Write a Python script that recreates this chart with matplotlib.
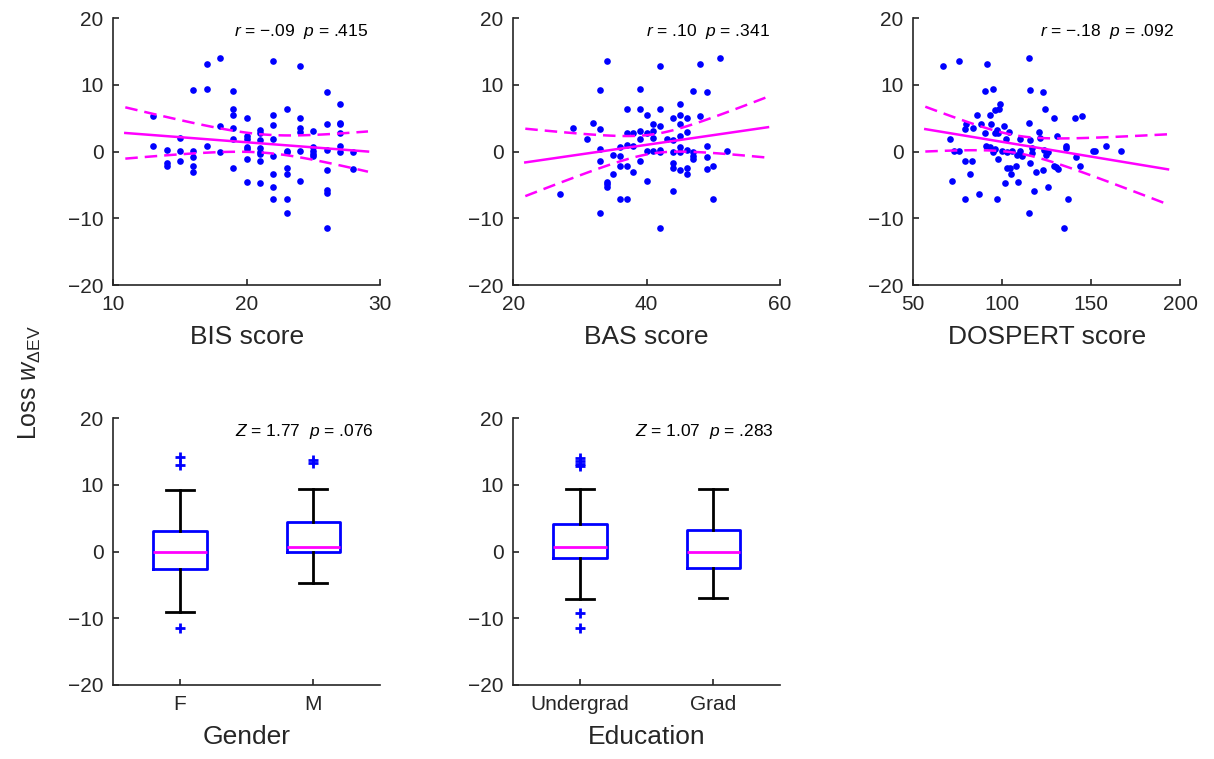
import numpy as np
import matplotlib
matplotlib.use("Agg")
import matplotlib.pyplot as plt

plt.rcParams['font.family'] = ['Liberation Sans', 'DejaVu Sans']
plt.rcParams['mathtext.fontset'] = 'custom'
plt.rcParams['mathtext.rm'] = 'Liberation Sans'
plt.rcParams['mathtext.it'] = 'Liberation Sans:italic'

# --- scatter data ---
bis_x = [13, 13, 14, 14, 14, 15, 15, 15, 16, 16, 16, 16, 16, 17, 17, 17, 18, 18, 18,
         19, 19, 19, 19, 19, 19, 20, 20, 20, 20, 20, 20, 20, 21, 21, 21, 21, 21, 21, 21, 21,
         22, 22, 22, 22, 22, 22, 22, 22, 23, 23, 23, 23, 23, 23, 23, 24, 24, 24, 24, 24, 24,
         25, 25, 25, 25, 25, 26, 26, 26, 26, 26, 26, 26, 27, 27, 27, 27, 27, 27, 28, 28]
bis_y = [5.35, 0.85, 0.25, -1.75, -2.15, 2.0, 0.05, -1.35, 9.25, 0.05, -0.75, -2.15, -3.1,
         13.15, 9.4, 0.85, 14.1, 3.85, 0.0, 9.15, 6.35, 5.5, 3.5, 1.9, -2.5,
         5.0, 2.35, 1.85, 0.75, 0.35, -1.1, -4.5, 3.25, 2.85, 1.75, 0.5, 0.0, -0.35, -1.4, -4.75,
         13.65, 5.45, 4.05, 1.85, -0.7, -3.3, -5.3, -7.1, 6.35, 0.15, -0.1, -2.5, -3.3, -7.1, -9.2,
         12.85, 5.0, 3.5, 2.9, 0.05, -4.4, 3.05, 0.75, 0.05, -0.35, -0.65,
         9.0, 4.15, 0.25, -2.8, -5.75, -6.25, -11.45, 7.1, 4.3, 4.1, 2.8, 0.85, 0.0, 0.0, -2.55]

bas_x = [27, 29, 31, 32, 33, 33, 33, 33, 33, 34, 34, 34, 34, 35, 35, 36, 36, 36, 36,
         37, 37, 37, 37, 37, 38, 38, 38, 39, 39, 39, 39, 39, 40, 40, 40, 40,
         41, 41, 41, 41, 42, 42, 42, 42, 42, 42, 43, 44, 44, 44, 44, 44, 44,
         45, 45, 45, 45, 45, 45, 45, 46, 46, 46, 46, 46, 47, 47, 47, 47, 48, 48,
         49, 49, 49, 49, 50, 50, 51, 52]
bas_y = [-6.3, 3.5, 1.9, 4.3, 9.25, 3.4, 0.4, -1.35, -9.2, 13.65, -4.5, -4.9, -5.3, -0.5, -3.3,
         0.7, -0.65, -2.2, -7.1, 6.35, 2.75, 0.95, -2.2, -7.1, 2.75, 0.85, -3.1,
         9.4, 6.35, 3.15, 1.85, -1.35, 5.45, 2.85, 0.1, -4.45, 4.15, 3.05, 2.0, 0.15,
         12.85, 6.35, 3.8, 0.3, 0.0, -11.45, 1.85, 5.0, 1.75, 0.0, -1.75, -2.5, -5.85,
         7.1, 5.5, 4.1, 2.35, 0.65, 0.0, -2.8, 5.0, 2.95, 0.25, -2.5, -3.3,
         9.1, 0.0, -0.6, -1.1, 13.15, 5.35, 8.95, 0.85, -0.75, -2.55, -2.2, -7.15, 14.1, 0.05]

dospert_x = [66.5, 70.7, 71.8, 72.9, 75.9, 75.9, 78.8, 78.8, 78.8, 79.7, 82.0, 82.9, 83.8,
             85.7, 86.8, 87.8, 90.6, 90.6, 91.0, 91.7, 92.9, 92.9, 93.8, 94.7, 95.1, 95.9,
             95.9, 96.2, 96.8, 96.8, 97.7, 97.7, 98.1, 98.9, 99.8, 100.8, 101.7, 102.1,
             102.6, 102.8, 103.8, 104.5, 104.9, 105.5, 107.9, 108.6, 108.8, 109.8, 110.0,
             111.1, 114.8, 114.8, 114.8, 115.8, 115.8, 115.8, 116.8, 116.8, 117.7, 118.8,
             120.7, 121.1, 122.8, 122.8, 123.3, 124.1, 124.8, 125.6, 125.8, 128.9, 128.9,
             130.3, 130.8, 131.2, 135.0, 135.9, 135.9, 137.0, 140.8, 141.7, 144.0, 145.1,
             150.8, 152.1, 158.1, 166.9]
dospert_y = [12.85, 1.9, -4.4, 0.05, 13.65, 0.05, 3.4, -1.35, -7.1, 4.15, -3.3, -1.35, 3.5,
             5.5, -6.3, 4.1, 9.1, 2.75, 0.9, 13.15, 5.45, 0.65, 4.15, 9.4, 0.0, 6.25,
             2.75, 0.4, 3.2, -7.1, 2.85, -1.1, 6.35, 7.1, 0.05, 3.8, -4.75, 1.85,
             0.0, -2.5, 3.0, -2.5, -3.3, 0.15, -2.15, -0.55, -4.5, 1.85, 0.1,
             -0.65, 14.1, 4.3, -9.2, 9.25, 1.7, -1.75, 0.5, -0.25, -5.85, -3.1,
             2.95, 2.0, 8.95, -2.8, 0.3, 6.35, -0.55, 0.0, -5.3, 5.0, -2.2,
             -2.35, 2.35, -2.55, -11.45, 0.9, 0.5, -7.15, 5.0, -0.75, -2.2, 5.35,
             0.05, 0.05, 0.85, 0.05]

scatter_xlabels = ["BIS score", "BAS score", "DOSPERT score"]
scatter_xlims = [(10, 30), (20, 60), (50, 200)]
scatter_xticks = [[10, 20, 30], [20, 40, 60], [50, 100, 150, 200]]
scatter_stats = ["$r$ = \u2212.09  $p$ = .415", "$r$ = .10  $p$ = .341", "$r$ = \u2212.18  $p$ = .092"]

# --- box plot summaries ---
gender_labels = ["F", "M"]
gender_med = [0.0, 0.7]
gender_q1 = [-2.65, -0.1]
gender_q3 = [3.15, 4.5]
gender_lo = [-9.1, -4.7]
gender_hi = [9.2, 9.45]
gender_fliers = [[14.15, 13.0, -11.45], [13.75, 13.25]]
gender_stats = "$Z$ = 1.77  $p$ = .076"

edu_labels = ["Undergrad", "Grad"]
edu_med = [0.7, 0.0]
edu_q1 = [-0.9, -2.5]
edu_q3 = [4.1, 3.25]
edu_lo = [-7.1, -7.0]
edu_hi = [9.35, 9.45]
edu_fliers = [[14.1, 13.65, 13.15, 12.9, -9.15, -11.45], []]
edu_stats = "$Z$ = 1.07  $p$ = .283"

BLUE = "#0000ff"
MAG = "#ff00ff"

fig = plt.figure(figsize=(12.14, 7.59), dpi=100)

W, H = 1214.0, 759.0
lefts = [113.3 / W, 513.3 / W, 913.3 / W]
aw = 266.7 / W
ah = 266.7 / H
top_b = 1 - 285 / H
bot_b = 1 - 685 / H
stat_xpos = [0.955, 0.9625, 0.976]


def style_axes(ax):
    for s in ["top", "right"]:
        ax.spines[s].set_visible(False)
    for s in ["left", "bottom"]:
        ax.spines[s].set_linewidth(1.2)
        ax.spines[s].set_color("#262626")
    ax.tick_params(direction="in", length=4, width=1.2, labelsize=15, pad=7,
                   color="#262626", labelcolor="#262626")
    ax.set_ylim(-20, 20)
    ax.set_yticks([-20, -10, 0, 10, 20])


scatter_data = [(bis_x, bis_y), (bas_x, bas_y), (dospert_x, dospert_y)]
for i, (xs, ys) in enumerate(scatter_data):
    ax = fig.add_axes([lefts[i], top_b, aw, ah])
    style_axes(ax)
    xs = np.array(xs, dtype=float)
    ys = np.array(ys, dtype=float)
    ax.plot(xs, ys, "o", color=BLUE, ms=4.8, mew=0)

    # least squares fit with simultaneous 95% confidence band
    lo, hi = scatter_xlims[i]
    span = hi - lo
    xf = np.linspace(lo + 0.045 * span, hi - 0.045 * span, 100)
    b, a = np.polyfit(xs, ys, 1)
    n = len(xs)
    resid = ys - (a + b * xs)
    s = np.sqrt(np.sum(resid ** 2) / (n - 2))
    sxx = np.sum((xs - xs.mean()) ** 2)
    se = s * np.sqrt(1.0 / n + (xf - xs.mean()) ** 2 / sxx)
    yf = a + b * xf
    crit = np.sqrt(2 * 3.11)
    ax.plot(xf, yf, color=MAG, lw=1.8)
    ax.plot(xf, yf + crit * se, color=MAG, lw=1.8, ls=(0, (5, 2.8)))
    ax.plot(xf, yf - crit * se, color=MAG, lw=1.8, ls=(0, (5, 2.8)))

    ax.set_xlim(lo, hi)
    ax.set_xticks(scatter_xticks[i])
    ax.set_xlabel(scatter_xlabels[i], fontsize=19, color="#262626", labelpad=8)
    ax.text(stat_xpos[i], 0.95, scatter_stats[i], transform=ax.transAxes,
            ha="right", va="center", fontsize=12.5, color="black")

box_sets = [
    (gender_labels, gender_med, gender_q1, gender_q3, gender_lo, gender_hi, gender_fliers, gender_stats, "Gender"),
    (edu_labels, edu_med, edu_q1, edu_q3, edu_lo, edu_hi, edu_fliers, edu_stats, "Education"),
]
for i, (labels, med, q1, q3, wlo, whi, fl, stat, xlabel) in enumerate(box_sets):
    ax = fig.add_axes([lefts[i], bot_b, aw, ah])
    style_axes(ax)
    stats = []
    for k in range(len(labels)):
        stats.append({"med": med[k], "q1": q1[k], "q3": q3[k], "whislo": wlo[k],
                      "whishi": whi[k], "fliers": fl[k], "label": labels[k]})
    ax.bxp(stats, positions=[1, 2], widths=0.4, showfliers=True,
           boxprops=dict(color=BLUE, lw=2),
           medianprops=dict(color=MAG, lw=2),
           whiskerprops=dict(color="black", lw=2, ls="-"),
           capprops=dict(color="black", lw=2),
           capwidths=0.21,
           flierprops=dict(marker="+", markeredgecolor=BLUE, markersize=7.5, mew=2))
    ax.set_xlim(0.5, 2.5)
    ax.set_xticks([1, 2])
    ax.set_xticklabels(labels)
    ax.set_xlabel(xlabel, fontsize=19, color="#262626", labelpad=8)
    ax.text(0.975, 0.95, stat, transform=ax.transAxes,
            ha="right", va="center", fontsize=12.5, color="black")

fig.text(0.025, 0.496, "Loss $w_{\\Delta\\mathrm{EV}}$", rotation=90, ha="center",
         va="center", fontsize=18, color="#262626")

fig.savefig("out.png", dpi=100)
